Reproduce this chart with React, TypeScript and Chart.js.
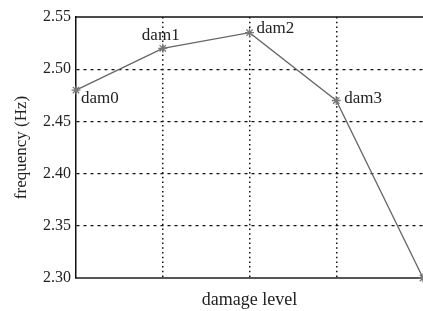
import React, { useEffect, useRef } from "react";
import { Chart, registerables } from "chart.js";

Chart.register(...registerables);

const damageLevels = [0, 1, 2, 3, 4];
const frequencies = [2.48, 2.52, 2.535, 2.47, 2.3];
const pointLabels = ["dam0", "dam1", "dam2", "dam3", ""];
const yTicks = [2.3, 2.35, 2.4, 2.45, 2.5, 2.55];

const FONT = "'Liberation Serif', 'Times New Roman', serif";

const labelPlugin = {
  id: "pointLabels",
  afterDatasetsDraw(chart: any) {
    const meta = chart.getDatasetMeta(0);
    const ctx = chart.ctx;
    ctx.save();
    ctx.font = `17px ${FONT}`;
    ctx.fillStyle = "#222";
    ctx.textBaseline = "middle";
    const offsets = [
      { dx: 5, dy: 8, align: "left" },
      { dx: -2, dy: -13, align: "center" },
      { dx: 7, dy: -4, align: "left" },
      { dx: 8, dy: -2, align: "left" },
      { dx: 0, dy: 0, align: "left" },
    ];
    meta.data.forEach((pt: any, i: number) => {
      const text = pointLabels[i];
      if (!text) return;
      const o = offsets[i];
      ctx.textAlign = o.align;
      ctx.fillText(text, pt.x + o.dx, pt.y + o.dy);
    });
    ctx.restore();
  },
};

const topBorderPlugin = {
  id: "topBorder",
  afterDraw(chart: any) {
    const { ctx, chartArea } = chart;
    ctx.save();
    ctx.strokeStyle = "#111";
    ctx.lineWidth = 1.5;
    ctx.beginPath();
    ctx.moveTo(chartArea.left, chartArea.top);
    ctx.lineTo(chartArea.right + 2, chartArea.top);
    ctx.stroke();
    ctx.restore();
  },
};

export default function App() {
  const ref = useRef<HTMLCanvasElement | null>(null);
  useEffect(() => {
    if (!ref.current) return;
    const chart = new Chart(ref.current, {
      type: "line",
      data: {
        datasets: [
          {
            data: damageLevels.map((x, i) => ({ x, y: frequencies[i] })),
            borderColor: "#666",
            borderWidth: 1.3,
            pointStyle: "star",
            pointRadius: 4.5,
            pointBorderColor: "#777",
            pointBorderWidth: 1.3,
            pointBackgroundColor: "#777",
            clip: false as any,
            tension: 0,
          },
        ],
      },
      options: {
        responsive: false,
        animation: false,
        events: [],
        layout: { autoPadding: false, padding: { top: 17, right: 0, left: 0, bottom: 0 } },
        plugins: {
          legend: { display: false },
          tooltip: { enabled: false },
        },
        scales: {
          x: {
            type: "linear",
            min: 0,
            max: 4,
            ticks: { display: false, stepSize: 1 },
            grid: {
              drawTicks: false,
              color: (c: any) =>
                c.tick && c.tick.value > 0 && c.tick.value < 4 ? "#111" : "rgba(0,0,0,0)",
              lineWidth: 1.5,
            },
            border: { display: true, color: "#555", width: 2, dash: [1.5, 3.2] },
            title: {
              display: true,
              text: "damage level",
              font: { family: FONT, size: 18 },
              color: "#222",
              padding: { top: 8, bottom: 0 },
            },
            afterFit: (s: any) => {
              s.height = 33;
            },
          },
          y: {
            min: 2.3,
            max: 2.55,
            afterBuildTicks: (s: any) => {
              s.ticks = yTicks.map((v) => ({ value: v }));
            },
            ticks: {
              font: { family: FONT, size: 16 },
              color: "#222",
              padding: 5,
              callback: (v: any) => Number(v).toFixed(2),
            },
            grid: {
              drawTicks: false,
              color: (c: any) =>
                c.tick && c.tick.value > 2.301 && c.tick.value < 2.549 ? "#111" : "rgba(0,0,0,0)",
              lineWidth: 1.3,
            },
            border: { display: true, color: "#111", width: 1.5, dash: [3, 4] },
            title: {
              display: true,
              text: "frequency (Hz)",
              font: { family: FONT, size: 17 },
              color: "#222",
              padding: { top: 11, bottom: 4 },
            },
            afterFit: (s: any) => {
              s.width = 76;
            },
          },
        },
      },
      plugins: [labelPlugin, topBorderPlugin],
    });
    return () => chart.destroy();
  }, []);
  return (
    <div style={{ position: "fixed", left: 0, top: 0, width: 423, height: 311, background: "#fff" }}>
      <canvas ref={ref} width={423} height={311} />
    </div>
  );
}
